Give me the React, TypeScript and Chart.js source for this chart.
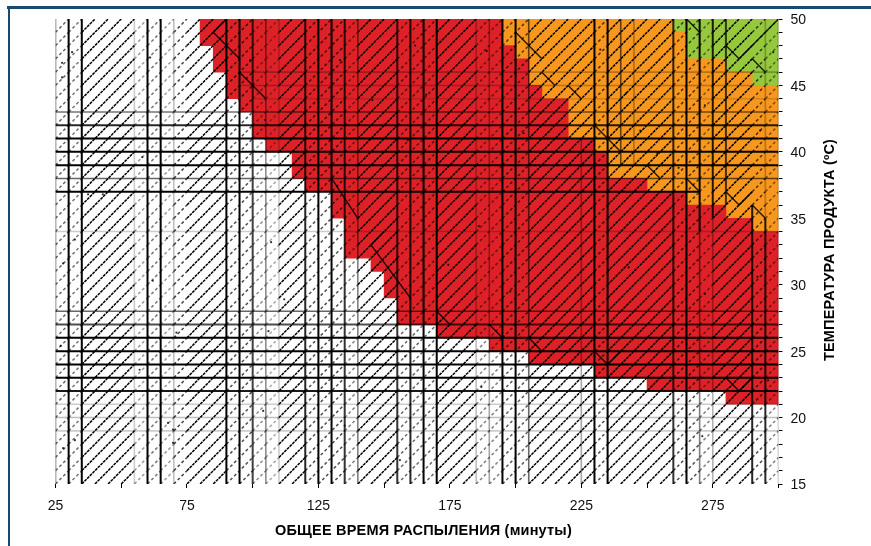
import React, { useEffect, useRef } from "react";
import { Chart, registerables } from "chart.js";

Chart.register(...registerables);

// Grid lattice (data units)
const timeEdges = [25,30,35,40,45,50,55,60,65,70,75,80,85,90,95,100,105,110,115,120,125,130,135,140,145,150,155,160,165,170,175,180,185,190,195,200,205,210,215,220,225,230,235,240,245,250,255,260,265,270,275,280,285,290,295,300];
const tempEdges = [15,16,17,18,19,20,21,22,23,24,25,26,27,28,29,30,31,32,33,34,35,36,37,38,39,40,41,42,43,44,45,46,47,48,49,50];

// Lowest temperature of each colour band, per time bin start
const redFromTime = [80,85,90,95,100,105,110,115,120,125,130,135,140,145,150,155,160,165,170,175,180,185,190,195,200,205,210,215,220,225,230,235,240,245,250,255,260,265,270,275,280,285,290,295];
const redFromTemp = [48,46,44,43,41,40,40,38,37,37,35,32,32,31,29,27,27,27,26,26,26,26,25,25,25,24,24,24,24,24,23,23,23,23,22,22,22,22,22,22,21,21,21,21];
const orangeFromTime = [195,200,205,210,215,220,225,230,235,240,245,250,255,260,265,270,275,280,285,290,295];
const orangeFromTemp = [48,47,45,44,44,41,41,40,38,38,38,37,37,37,36,36,36,35,35,34,34];
const greenFromTime = [260,265,270,275,280,285,290,295];
const greenFromTemp = [49,47,47,47,46,46,45,45];

// Hatch darkness per time bin (same order as timeEdges)
const hatchShade = [.6,.55,1,1,1,1,.4,.55,.4,.75,1,1,1,.7,.7,.45,.35,1,1,.7,.7,.7,.5,1,1,1,.6,.6,.6,1,1,1,.5,.5,.65,.65,1,1,1,1,1,.7,1,1,1,1,1,.7,.7,.5,1,1,1,.7,.5];

// Vertical rules: time, from temp, to temp, darkness
const verticalRules = [
  [25,15,50,.55],[30,15,50,1],[35,15,50,1],[55,15,50,.2],[60,15,50,1],[65,15,50,1],[70,15,50,.25],
  [90,15,50,1],[95,15,50,1],[100,15,50,.75],[105,15,50,.45],[110,15,50,.2],
  [120,15,50,.85],[125,15,50,1],[130,15,50,1],[135,15,50,.8],[140,15,50,.5],
  [155,15,50,.8],[160,15,50,.85],[165,15,50,1],[170,15,50,1],[185,15,50,.25],[190,15,50,.35],
  [195,15,50,1],[200,15,50,1],[205,15,50,.6],[225,15,41,.35],
  [230,15,50,1],[235,15,50,1],[240,39,50,.6],[245,39,50,.3],
  [260,15,50,.8],[265,15,50,1],[270,34,50,1],[270,15,34,.5],[275,35,50,.85],[275,15,35,.3],[280,36,50,.7],
  [290,15,36,.85],[295,15,35,.85],[295,35,50,.25],[300,15,50,.3],
];

// Horizontal rules: temp, from time, to time, darkness
const horizontalRules = [
  [46,95,300,.25],[45,95,290,.25],[44,100,300,.15],
  [43,25,300,.55],[42,25,300,.85],[41,25,300,1],[40,25,300,1],[39,25,300,1],[38,25,300,.6],[37,25,270,1],
  [34,25,300,.2],
  [28,25,300,.6],[27,25,300,.7],[26,25,300,1],[25,25,300,1],[24,25,300,1],[23,25,300,1],[22,25,300,.9],
  [21,25,300,.2],[20,25,300,.25],[19,25,300,.2],
];

// Reversed zig-zag strokes in the hatching: [time, temp] chains
const reverseStrokes = [
  [[90,50],[85,49],[95,47]],[[95,46],[105,44]],
  [[130,38],[140,35]],[[150,34],[145,33],[160,29]],[[170,28],[175,27]],[[190,27],[195,26]],[[205,26],[210,25]],
  [[200,49],[210,47]],[[210,46],[215,45]],[[220,45],[225,44]],
  [[230,42],[240,40]],[[250,39],[255,38]],[[265,38],[270,37]],
  [[280,37],[285,36],[290,37]],[[290,36],[295,35]],
  [[265,50],[270,49]],[[280,48],[285,47],[300,50]],[[290,47],[295,46]],
  [[230,25],[235,24],[240,25]],[[280,23],[285,22],[290,23]],
];

// Scattered specks: time, temp
const speckTime = [27.5,31.3,27.5,48.4,61,27.9,32.4,67.4,37.4,43,27.9,32.4,69.7,67.8,69.7,163,174.4,178,253.9,99,104.7,112,133.2,145.5,159,161.8,232.2,247.4,57,62,71,104,107,135,137,158,166,186,189,198,203,228,243,262,271,272,292,298,296,27,58,106,156,187,242,272,293];
const speckTemp = [46.7,47.5,45.6,42.6,47.1,31.6,33.4,33.5,36.8,36.8,17.7,18.3,19.1,19.6,18.1,31.6,31.5,36.6,39.9,46.9,42.4,28.9,46.9,43.9,40.9,48,47.7,41.6,23.6,30.3,26.4,20.5,33.2,19.4,38.5,24.6,44.3,34.4,47.6,29.5,41.4,20.6,31.3,38.8,18.6,43.5,30.6,47.5,22.8,25.4,39.6,26.5,16.8,22.3,44.4,29.3,41.6];

const xTickLabels = [25, 75, 125, 175, 225, 275];
const yTickLabels = [15, 20, 25, 30, 35, 40, 45, 50];
const xTitle = "ОБЩЕЕ ВРЕМЯ РАСПЫЛЕНИЯ (минуты)";
const yTitle = "ТЕМПЕРАТУРА ПРОДУКТА (ºC)";

const FONT = '"Liberation Sans", Arial, sans-serif';
const ink = (a: number) => `rgba(0,0,0,${a})`;

function topOfBand(t: number) {
  const oi = orangeFromTime.indexOf(t);
  return oi >= 0 ? orangeFromTemp[oi] : 50;
}
function topOfOrange(t: number) {
  const gi = greenFromTime.indexOf(t);
  return gi >= 0 ? greenFromTemp[gi] : 50;
}

function ruleDataset(data: { x: number; y: number }[], a: number, width?: number) {
  return {
    type: "line",
    data,
    borderColor: ink(a),
    borderWidth: width ?? (a >= 0.7 ? 2 : 1.6),
    pointRadius: 0,
    tension: 0,
    order: 2,
  };
}

function buildDatasets() {
  const bars = [
    {
      label: "red",
      backgroundColor: "#dd2127",
      data: redFromTime.map((t, i) => ({ x: t + 2.5, y: [redFromTemp[i], topOfBand(t)] })),
    },
    {
      label: "orange",
      backgroundColor: "#f8971d",
      data: orangeFromTime.map((t, i) => ({ x: t + 2.5, y: [orangeFromTemp[i], topOfOrange(t)] })),
    },
    {
      label: "green",
      backgroundColor: "#95c83d",
      data: greenFromTime.map((t, i) => ({ x: t + 2.5, y: [greenFromTemp[i], 50] })),
    },
  ].map((d) => ({
    ...d,
    type: "bar",
    grouped: false,
    barPercentage: 1,
    categoryPercentage: 1,
    borderWidth: 0,
    order: 10,
  }));

  const starts: [number, number][] = [];
  tempEdges.forEach((_, j) => { if (j < tempEdges.length - 1) starts.push([0, j]); });
  timeEdges.forEach((_, i) => { if (i > 0 && i < timeEdges.length - 1) starts.push([i, 0]); });
  const hatches = starts.map(([i0, j0]) => {
    const pts: { x: number; y: number }[] = [];
    for (let i = i0, j = j0; i < timeEdges.length && j < tempEdges.length; i++, j++) {
      pts.push({ x: timeEdges[i], y: tempEdges[j] });
    }
    return {
      type: "line",
      data: pts,
      borderWidth: 1.5,
      pointRadius: 0,
      tension: 0,
      order: 5,
      segment: {
        borderColor: (c: any) => ink(hatchShade[timeEdges.indexOf(c.p0.parsed.x)] ?? 0.5),
        borderDash: (c: any) =>
          (hatchShade[timeEdges.indexOf(c.p0.parsed.x)] ?? 0.5) >= 0.9 ? [3, 0.8] : [3, 2.5],
      },
    };
  });

  const verticals = verticalRules.map(([x, y0, y1, a]) =>
    ruleDataset([{ x, y: y0 }, { x, y: y1 }], a));
  const horizontals = horizontalRules.map(([y, x0, x1, a]) =>
    ruleDataset([{ x: x0, y }, { x: x1, y }], a));
  const reverses = reverseStrokes.map((chain) =>
    ruleDataset(chain.map(([x, y]) => ({ x, y })), 0.85, 1.4));

  const specks = {
    type: "line",
    showLine: false,
    data: speckTime.map((x, i) => ({ x, y: speckTemp[i] })),
    pointRadius: 1.1,
    pointBorderWidth: 0,
    pointBackgroundColor: "rgba(0,0,0,0.8)",
    order: 1,
  };

  return [...bars, ...hatches, ...verticals, ...horizontals, ...reverses, specks];
}

const axisTitles = {
  id: "axisTitles",
  beforeDraw(chart: any) {
    // nudge the temperature labels onto the reference's baseline (once)
    if (!chart.$labelsNudged) {
      chart.scales.y.getLabelItems().forEach((item: any) => { item.textOffset += 1.5; });
      chart.scales.x.getLabelItems();
      chart.$labelsNudged = true;
    }
  },
  afterDraw(chart: any) {
    const { ctx } = chart;
    ctx.save();
    ctx.fillStyle = "#000";
    ctx.font = `bold 14.5px ${FONT}`;
    ctx.letterSpacing = "0.2px";
    ctx.textAlign = "center";
    ctx.textBaseline = "middle";
    ctx.fillText(xTitle, 423.5, 530.5);
    ctx.translate(830, 250);
    ctx.rotate(-Math.PI / 2);
    ctx.fillText(yTitle, 0, 0);
    ctx.restore();
  },
};

export default function App() {
  const ref = useRef<HTMLCanvasElement>(null);
  useEffect(() => {
    if (!ref.current) return;
    const chart = new Chart(ref.current, {
      type: "bar",
      data: { datasets: buildDatasets() as any },
      plugins: [axisTitles],
      options: {
        responsive: false,
        animation: false,
        parsing: undefined,
        layout: { padding: { left: 55.5, top: 19, right: 0, bottom: 0 } },
        plugins: { legend: { display: false }, tooltip: { enabled: false }, title: { display: false } },
        scales: {
          x: {
            type: "linear",
            min: 25,
            max: 300,
            offset: false,
            afterFit: (s: any) => { s.height = 546 - 484; },
            grid: { drawOnChartArea: false, drawTicks: true, tickLength: 4, color: "#000", offset: false },
            border: { display: false },
            ticks: {
              stepSize: 25,
              autoSkip: false,
              maxRotation: 0,
              padding: 10,
              color: "#111",
              font: { family: FONT, size: 14 },
              callback: (v: any) => (xTickLabels.includes(v) ? String(v) : ""),
            },
          },
          y: {
            type: "linear",
            position: "right",
            min: 15,
            max: 50,
            afterFit: (s: any) => { s.width = 871 - 778.5; },
            grid: { drawOnChartArea: false, drawTicks: true, tickLength: 4, color: "#000" },
            border: { display: false },
            ticks: {
              stepSize: 1,
              autoSkip: false,
              padding: 8,
              color: "#111",
              font: { family: FONT, size: 14 },
              callback: (v: any) => (yTickLabels.includes(v) ? String(v) : ""),
            },
          },
        },
      } as any,
    });
    return () => chart.destroy();
  }, []);

  return (
    <div style={{ position: "absolute", left: 0, top: 0, width: 871, height: 546, background: "#fff", overflow: "hidden" }}>
      <div style={{ position: "absolute", left: 7, top: 6, right: 0, height: 3, background: "#1b4a70" }} />
      <div style={{ position: "absolute", left: 7.5, top: 6, width: 2.5, bottom: 0, background: "#1b4a70" }} />
      <canvas ref={ref} width={871} height={546} style={{ position: "absolute", left: 0, top: 0, display: "block" }} />
    </div>
  );
}
